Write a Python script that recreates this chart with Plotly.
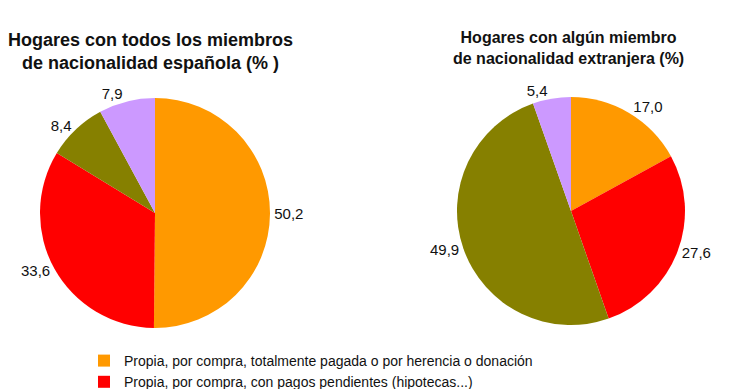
import plotly.graph_objects as go

categories = [
    "Propia, por compra, totalmente pagada o por herencia o donación",
    "Propia, por compra, con pagos pendientes (hipotecas...)",
    "Alquiler a precio de mercado o inferior",
    "Cedida gratis o a bajo precio por otro hogar, la empresa...",
]
espanola = [50.2, 33.6, 8.4, 7.9]
extranjera = [17.0, 27.6, 49.9, 5.4]
titles = [
    "Hogares con todos los miembros<br>de nacionalidad española (% )",
    "Hogares con algún miembro<br>de nacionalidad extranjera (%)",
]
colors = ["#FF9900", "#FF0000", "#868000", "#CC99FF"]

W, H = 740, 389
OFF = 8  # page body margin

def dom(cx, cy, r):
    cx -= OFF
    cy -= OFF
    return dict(x=[(cx - r) / W, (cx + r) / W], y=[(H - cy - r) / H, (H - cy + r) / H])

def px(x):
    return (x - OFF) / W

def py(y):
    return 1 - (y - OFF) / H

fig = go.Figure()
for vals, d, show in [(espanola, dom(155, 213, 115), True), (extranjera, dom(571, 211, 114), False)]:
    fig.add_trace(go.Pie(
        labels=categories, values=vals, sort=False, direction="clockwise", rotation=0,
        marker=dict(colors=colors, line=dict(width=0)),
        textposition="outside", texttemplate="%{value:.1f}",
        textfont=dict(family="Liberation Sans, Arial", size=15, color="#111"),
        domain=d, showlegend=show, hoverinfo="label+value",
    ))

fig.add_annotation(text="<b>" + titles[0] + "</b>", x=px(150), y=py(28), xref="paper", yref="paper",
                   xanchor="center", yanchor="top", showarrow=False,
                   font=dict(family="Liberation Sans, Arial", size=18, color="#111"))
fig.add_annotation(text="<b>" + titles[1] + "</b>", x=px(568), y=py(27), xref="paper", yref="paper",
                   xanchor="center", yanchor="top", showarrow=False,
                   font=dict(family="Liberation Sans, Arial", size=16, color="#111"))

fig.update_layout(
    width=W, height=H, margin=dict(l=0, r=0, t=0, b=0, autoexpand=False),
    paper_bgcolor="white", plot_bgcolor="white",
    separators=",.",
    legend=dict(x=px(84), y=py(345), yanchor="top", xanchor="left",
                font=dict(family="Liberation Sans, Arial", size=14, color="#111"),
                tracegroupgap=0, itemwidth=30, bgcolor="rgba(0,0,0,0)", maxheight=400),
)
fig.write_html("out.html")
